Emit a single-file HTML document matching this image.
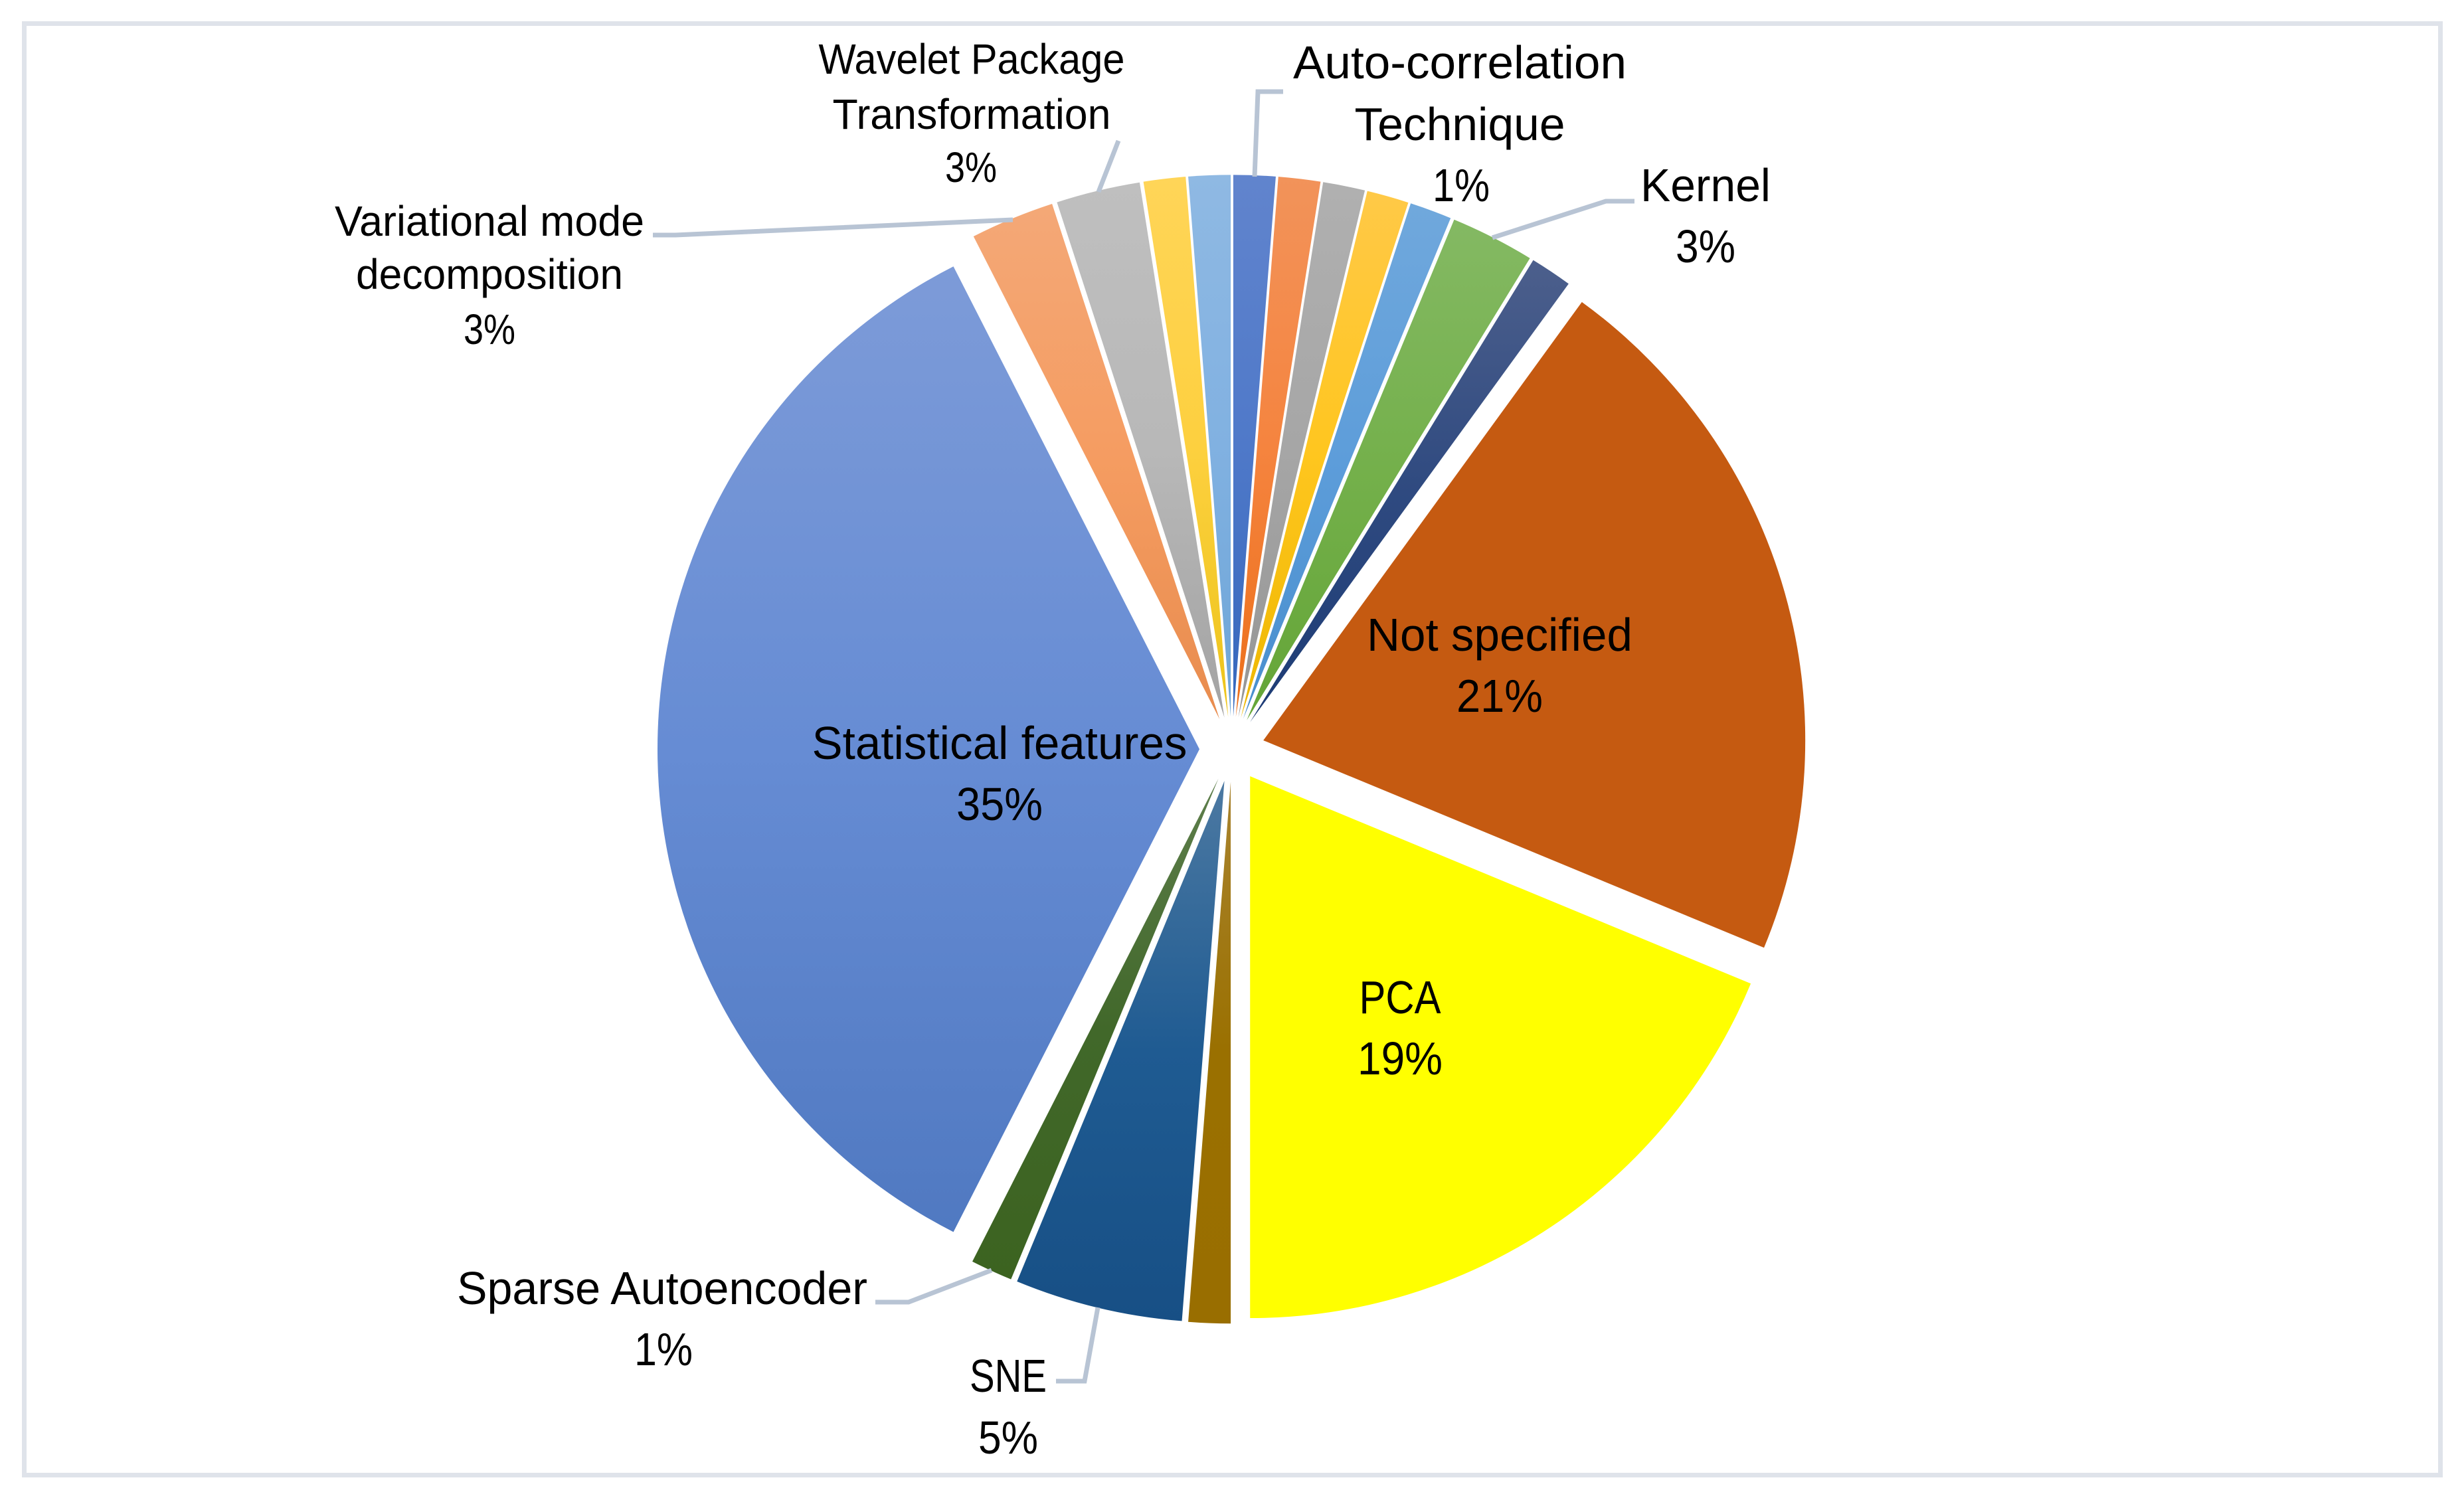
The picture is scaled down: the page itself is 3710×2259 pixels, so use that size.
<!DOCTYPE html>
<html lang="en">
<head>
<meta charset="utf-8">
<title>Feature extraction methods pie chart</title>
<style>
  html, body { margin: 0; padding: 0; background: #ffffff; }
  svg { display: block; }
  text { font-family: "Liberation Sans", Arial, sans-serif; fill: #000000; text-anchor: middle; }
  .big { font-size: 70px; }
  .small { font-size: 64px; }
  .leader { fill: none; stroke: #b8c4d4; stroke-width: 7; }
</style>
</head>
<body>
<svg id="chart" xmlns="http://www.w3.org/2000/svg" width="3710" height="2259" viewBox="0 0 3710 2259">
  <rect x="0" y="0" width="3710" height="2259" fill="#ffffff"/>
  <rect x="36.5" y="35.5" width="3638" height="2186" fill="none" stroke="#dfe3ea" stroke-width="7"/>
  <defs id="gradients"></defs>
  <g id="slices"></g>

  <g>
    <polyline class="leader" points="2247,358 2418,303 2461,303"/>
    <polyline class="leader" points="1889,266 1894,138 1932,138"/>
    <polyline class="leader" points="1654,289 1684,212"/>
    <polyline class="leader" points="1525,331 1017,354 983,354"/>
    <polyline class="leader" points="1493,1913 1368,1961 1318,1961"/>
    <polyline class="leader" points="1653,1969 1633,2080 1590,2080"/>
  </g>

  <g>
    <text class="big" x="1505" y="1143" textLength="565" lengthAdjust="spacingAndGlyphs">Statistical features</text>
    <text class="big" x="1505" y="1235" textLength="130" lengthAdjust="spacingAndGlyphs">35%</text>
  </g>
  <g>
    <text class="big" x="2258" y="980" textLength="400" lengthAdjust="spacingAndGlyphs">Not specified</text>
    <text class="big" x="2258" y="1072" textLength="130" lengthAdjust="spacingAndGlyphs">21%</text>
  </g>
  <g>
    <text class="big" x="2108" y="1526" textLength="123" lengthAdjust="spacingAndGlyphs">PCA</text>
    <text class="big" x="2108" y="1618" textLength="128" lengthAdjust="spacingAndGlyphs">19%</text>
  </g>
  <g>
    <text class="big" x="997" y="1964" textLength="618" lengthAdjust="spacingAndGlyphs">Sparse Autoencoder</text>
    <text class="big" x="999" y="2056" textLength="88" lengthAdjust="spacingAndGlyphs">1%</text>
  </g>
  <g>
    <text class="big" x="1518" y="2096" textLength="116" lengthAdjust="spacingAndGlyphs">SNE</text>
    <text class="big" x="1518" y="2189" textLength="90" lengthAdjust="spacingAndGlyphs">5%</text>
  </g>
  <g>
    <text class="small" x="737" y="355" textLength="466" lengthAdjust="spacingAndGlyphs">Variational mode</text>
    <text class="small" x="737" y="435" textLength="402" lengthAdjust="spacingAndGlyphs">decomposition</text>
    <text class="small" x="737" y="518" textLength="78" lengthAdjust="spacingAndGlyphs">3%</text>
  </g>
  <g>
    <text class="small" x="1463" y="111" textLength="461" lengthAdjust="spacingAndGlyphs">Wavelet Package</text>
    <text class="small" x="1463" y="194" textLength="419" lengthAdjust="spacingAndGlyphs">Transformation</text>
    <text class="small" x="1462" y="274" textLength="78" lengthAdjust="spacingAndGlyphs">3%</text>
  </g>
  <g>
    <text class="big" x="2198" y="118" textLength="502" lengthAdjust="spacingAndGlyphs">Auto-correlation</text>
    <text class="big" x="2198" y="211" textLength="317" lengthAdjust="spacingAndGlyphs">Technique</text>
    <text class="big" x="2200" y="303" textLength="86" lengthAdjust="spacingAndGlyphs">1%</text>
  </g>
  <g>
    <text class="big" x="2568" y="303" textLength="196" lengthAdjust="spacingAndGlyphs">Kernel</text>
    <text class="big" x="2568" y="395" textLength="90" lengthAdjust="spacingAndGlyphs">3%</text>
  </g>
</svg>

<script>
// Chart data, clockwise from 12 o'clock
const categories = [
  "top-blue", "top-orange", "top-gray", "top-yellow", "auto-correlation",
  "kernel", "navy", "not-specified", "pca", "brown", "sne", "sparse-autoencoder",
  "statistical-features", "variational-mode", "wavelet-package", "upper-yellow", "upper-light-blue"
];
const values = [1.25, 1.25, 1.25, 1.25, 1.25, 2.5, 1.25, 21.25, 18.75, 1.25, 5, 1.25, 35, 2.5, 2.5, 1.25, 1.25];

// Fill colours per slice: lightest (top), middle, base (bottom)
const topColors = ["#6184cd", "#f2935a", "#b0b0b0", "#ffc947", "#70a8dc", "#84b963", "#4c5f8c", "#c55a11", "#ffff00", "#a98430", "#4c79a2", "#5e7e4c", "#7d9bd8", "#f4a877", "#bfbfbf", "#ffd558", "#8fb9e3"];
const midColors = ["#4f79c9", "#f5843f", "#a6a6a6", "#ffc61f", "#5d9dda", "#74b04b", "#2f4a80", "#c55a11", "#ffff00", "#9a7000", "#1f5b92", "#41682a", "#668cd4", "#f59c61", "#b8b8b8", "#fdd03f", "#81b1e1"];
const botColors = ["#3567bc", "#ec6f1a", "#959595", "#edb700", "#488ecd", "#64a537", "#1c3b75", "#c55a11", "#ffff00", "#996e00", "#174f85", "#3c6320", "#5079c1", "#e88c4e", "#a3a3a3", "#ecc41a", "#6da5d7"];

const svgNS = "http://www.w3.org/2000/svg";
const centerX = 1855;
const centerY = 1128.3;
const radius = 816;
const explosion = 49;

function angleScale(v, total) { return v / total * 2 * Math.PI; }
function polarX(cx, r, a) { return cx + r * Math.sin(a); }
function polarY(cy, r, a) { return cy - r * Math.cos(a); }

const totalValue = values.reduce(function (s, v) { return s + v; }, 0);
const defsEl = document.getElementById("gradients");
const slicesEl = document.getElementById("slices");
let running = 0;

values.forEach(function (v, i) {
  const a0 = angleScale(running, totalValue);
  const a1 = angleScale(running + v, totalValue);
  const mid = (a0 + a1) / 2;
  running += v;

  const ax = polarX(centerX, explosion, mid);
  const ay = polarY(centerY, explosion, mid);

  const grad = document.createElementNS(svgNS, "linearGradient");
  grad.setAttribute("id", "grad-" + i);
  grad.setAttribute("x1", "0");
  grad.setAttribute("y1", "0");
  grad.setAttribute("x2", "0");
  grad.setAttribute("y2", "1");
  [[0, topColors[i]], [0.5, midColors[i]], [1, botColors[i]]].forEach(function (stop) {
    const s = document.createElementNS(svgNS, "stop");
    s.setAttribute("offset", stop[0]);
    s.setAttribute("stop-color", stop[1]);
    grad.appendChild(s);
  });
  defsEl.appendChild(grad);

  const x0 = polarX(ax, radius, a0), y0 = polarY(ay, radius, a0);
  const x1 = polarX(ax, radius, a1), y1 = polarY(ay, radius, a1);
  const large = (a1 - a0) > Math.PI ? 1 : 0;
  const path = document.createElementNS(svgNS, "path");
  path.setAttribute("d", "M" + ax + " " + ay + " L" + x0 + " " + y0 + " A" + radius + " " + radius + " 0 " + large + " 1 " + x1 + " " + y1 + " Z");
  path.setAttribute("fill", "url(#grad-" + i + ")");
  
  
  slicesEl.appendChild(path);
});
</script>
</body>
</html>
